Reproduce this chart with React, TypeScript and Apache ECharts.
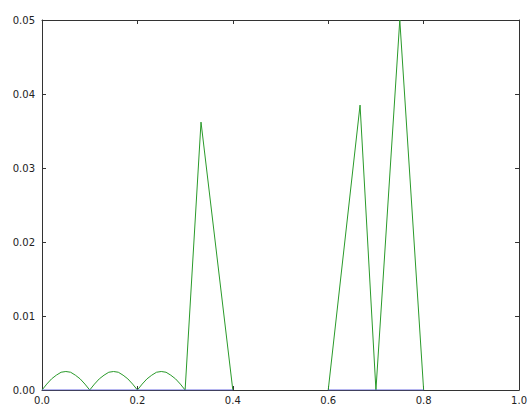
import React, { useEffect, useRef } from "react";
import * as echarts from "echarts";

const xTicks = [0, 0.2, 0.4, 0.6, 0.8, 1.0];
const yTicks = [0, 0.01, 0.02, 0.03, 0.04, 0.05];

// green series: [x, y] points (null = gap)
const greenX = [
  0, 0.01, 0.02, 0.03, 0.04, 0.05, 0.06, 0.07, 0.08, 0.09, 0.1,
  0.11, 0.12, 0.13, 0.14, 0.15, 0.16, 0.17, 0.18, 0.19, 0.2,
  0.21, 0.22, 0.23, 0.24, 0.25, 0.26, 0.27, 0.28, 0.29, 0.3,
  0.3333, 0.4, 0.5,
  0.6, 0.6667, 0.7, 0.75, 0.8, 0.9,
];
const greenY: (number | null)[] = [
  0, 0.0008, 0.0015, 0.002, 0.0024, 0.0025, 0.0024, 0.002, 0.0015, 0.0008, 0,
  0.0008, 0.0015, 0.002, 0.0024, 0.0025, 0.0024, 0.002, 0.0015, 0.0008, 0,
  0.0008, 0.0015, 0.002, 0.0024, 0.0025, 0.0024, 0.002, 0.0015, 0.0008, 0,
  0.0362, 0, null,
  0, 0.0385, 0, 0.05, 0, null,
];

// blue series along zero
const blueX = [0, 0.4, 0.5, 0.6, 0.8];
const blueY: (number | null)[] = [0, 0, null, 0, 0];

export default function App() {
  const ref = useRef<HTMLDivElement>(null);
  useEffect(() => {
    if (!ref.current) return;
    const chart = echarts.init(ref.current, undefined, { renderer: "svg" });
    const axisLine = { show: true, onZero: false, lineStyle: { color: "#333", width: 1 } };
    const tick = { show: true, inside: true, length: 4, lineStyle: { color: "#333" } };
    const font = { fontFamily: "DejaVu Sans", fontSize: 10, color: "#222" };
    chart.setOption({
      animation: false,
      backgroundColor: "#fff",
      grid: { left: 42, right: 10, top: 20, bottom: 17, containLabel: false },
      xAxis: [
        {
          type: "value",
          min: 0,
          max: 1,
          interval: 0.2,
          axisLine,
          axisTick: tick,
          splitLine: { show: false },
          axisLabel: { ...font, margin: 5, formatter: (v: number) => v.toFixed(1) },
        },
        {
          type: "value",
          position: "top",
          min: 0,
          max: 1,
          interval: 0.2,
          axisLine,
          axisTick: tick,
          splitLine: { show: false },
          axisLabel: { show: false },
        },
      ],
      yAxis: [
        {
          type: "value",
          min: 0,
          max: 0.05,
          interval: 0.01,
          axisLine,
          axisTick: tick,
          splitLine: { show: false },
          axisLabel: { ...font, margin: 7, formatter: (v: number) => v.toFixed(2) },
        },
        {
          type: "value",
          position: "right",
          min: 0,
          max: 0.05,
          interval: 0.01,
          axisLine,
          axisTick: tick,
          splitLine: { show: false },
          axisLabel: { show: false },
        },
      ],
      series: [
        {
          type: "line",
          data: greenX.map((x, i) => [x, greenY[i]]),
          showSymbol: false,
          symbol: "none",
          connectNulls: false,
          clip: false,
          lineStyle: { color: "#2a9a2a", width: 1 },
          z: 2,
        },
        {
          type: "line",
          data: blueX.map((x, i) => [x, blueY[i]]),
          showSymbol: false,
          symbol: "none",
          connectNulls: false,
          lineStyle: { color: "#6a6ae0", width: 1 },
          z: 3,
        },
      ],
    });
    return () => chart.dispose();
  }, []);
  return (
    <div
      ref={ref}
      style={{ position: "fixed", left: 0, top: 0, width: 530, height: 407 }}
    />
  );
}
